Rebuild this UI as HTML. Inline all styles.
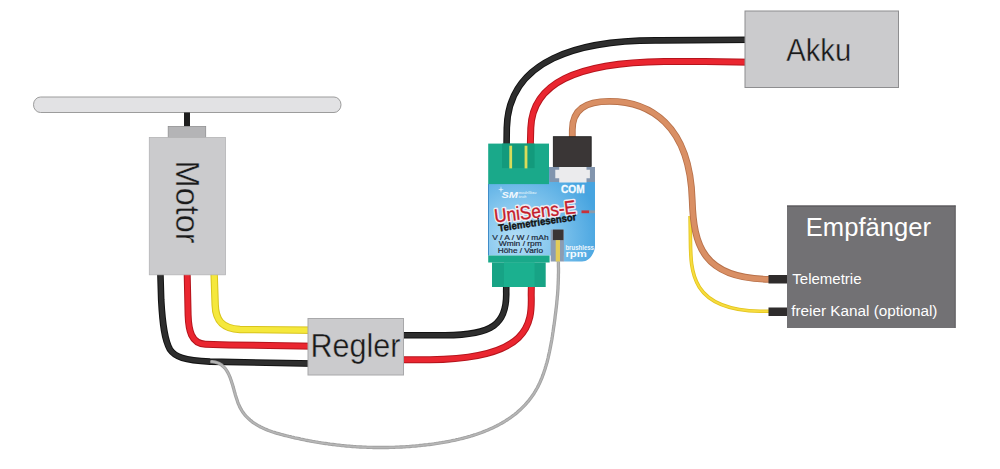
<!DOCTYPE html>
<html><head><meta charset="utf-8">
<style>
html,body{margin:0;padding:0;background:#fff;}
body{width:1000px;height:469px;overflow:hidden;position:relative;font-family:"Liberation Sans",sans-serif;}
svg{position:absolute;left:0;top:0;display:block;}
</style></head>
<body>
<svg width="1000" height="469" viewBox="0 0 1000 469" font-family="Liberation Sans, sans-serif">
<defs>
<radialGradient id="blue" gradientUnits="userSpaceOnUse" cx="520" cy="238" r="80" fx="515" fy="240">
<stop offset="0" stop-color="#b4def6"/>
<stop offset="0.45" stop-color="#86c7ee"/>
<stop offset="1" stop-color="#47a4e0"/>
</radialGradient>
</defs>
<rect width="1000" height="469" fill="#fff"/>

<!-- propeller -->
<rect x="33.5" y="97" width="307.5" height="15.5" rx="7" ry="7.75" fill="#e2e2e4" stroke="#9c9c9c" stroke-width="1"/>
<rect x="184" y="112.5" width="6" height="14" fill="#1e1e1e"/>
<rect x="168.2" y="126.5" width="37.5" height="11" fill="#b4b4b6" stroke="#8f8f91" stroke-width="0.8"/>

<g fill="none" stroke-linecap="butt" stroke-linejoin="round">
<path d="M160.3,270 L161.2,300 C162.6,325 164.5,340 170,349.5 C175,357 184,360.2 210,361.6 L315,363.6" stroke="#121212" stroke-width="6.6"/>
<path d="M160.3,270 L161.2,300 C162.6,325 164.5,340 170,349.5 C175,357 184,360.2 210,361.6 L315,363.6" stroke="#2e2e2e" stroke-width="4.6"/>
<path d="M187.1,270 L188.1,314.9 C188.6,330 191,343.6 205.4,344.2 L229.1,344.9 L315,346.3" stroke="#b5141c" stroke-width="7.0"/>
<path d="M187.1,270 L188.1,314.9 C188.6,330 191,343.6 205.4,344.2 L229.1,344.9 L315,346.3" stroke="#ea2630" stroke-width="5.0"/>
<path d="M214,270 L215.2,305 C215.6,319 221,328.5 240,329.5 L315,330.2" stroke="#d8c41c" stroke-width="7.4"/>
<path d="M214,270 L215.2,305 C215.6,319 221,328.5 240,329.5 L315,330.2" stroke="#f5e83c" stroke-width="5.4"/>
<path d="M210.5,361.6 L212.2,361.7 L213.8,361.9 L215.3,362.2 L216.7,362.6 L218.0,363.0 L219.3,363.6 L220.5,364.3 L221.6,365.0 L222.6,365.9 L223.6,366.8 L224.6,367.8 L225.4,368.8 L226.2,369.9 L227.0,371.1 L227.7,372.3 L228.4,373.6 L229.0,374.9 L229.6,376.3 L230.2,377.7 L230.7,379.2 L231.2,380.6 L231.7,382.2 L232.2,383.7 L232.7,385.2 L233.1,386.8 L233.6,388.4 L234.0,389.9 L234.4,391.5 L234.9,393.1 L235.3,394.7 L235.8,396.2 L236.3,397.8 L236.8,399.3 L237.3,400.8 L237.8,402.3 L238.4,403.8 L239.0,405.2 L239.6,406.6 L240.3,407.9 L241.0,409.2 L241.7,410.4 L242.5,411.7 L243.3,412.8 L244.2,414.0 L245.1,415.1 L246.0,416.1 L247.0,417.1 L248.0,418.1 L249.0,419.1 L250.0,420.0 L251.1,420.9 L252.2,421.8 L253.3,422.6 L254.5,423.4 L255.7,424.1 L256.9,424.9 L258.1,425.6 L259.4,426.3 L260.6,427.0 L261.9,427.6 L263.2,428.2 L264.5,428.8 L265.9,429.4 L267.2,429.9 L268.6,430.5 L270.0,431.0 L271.4,431.5 L272.8,432.0 L274.2,432.4 L275.6,432.9 L277.1,433.3 L278.5,433.7 L280.0,434.1 L281.4,434.5 L282.9,434.9 L284.4,435.3 L285.8,435.7 L287.3,436.0 L288.8,436.4 L290.2,436.7 L291.7,437.1 L293.2,437.4 L294.7,437.8 L296.1,438.1 L297.6,438.4 L299.1,438.7 L300.6,439.1 L302.0,439.4 L303.5,439.7 L305.0,440.0 L306.4,440.3 L307.9,440.5 L309.4,440.8 L310.9,441.1 L312.3,441.4 L313.8,441.6 L315.3,441.9 L316.8,442.1 L318.3,442.4 L319.7,442.6 L321.2,442.9 L322.7,443.1 L324.2,443.3 L325.6,443.5 L327.1,443.7 L328.6,444.0 L330.1,444.2 L331.6,444.3 L333.0,444.5 L334.5,444.7 L336.0,444.9 L337.5,445.1 L339.0,445.2 L340.5,445.4 L341.9,445.6 L343.4,445.7 L344.9,445.8 L346.4,446.0 L347.9,446.1 L349.4,446.2 L350.9,446.4 L352.3,446.5 L353.8,446.6 L355.3,446.7 L356.8,446.8 L358.3,446.9 L359.8,447.0 L361.3,447.0 L362.8,447.1 L364.3,447.2 L365.8,447.2 L367.3,447.3 L368.8,447.3 L370.3,447.4 L371.8,447.4 L373.2,447.5 L374.7,447.5 L376.2,447.5 L377.7,447.5 L379.3,447.5 L380.8,447.5 L382.3,447.5 L383.8,447.5 L385.3,447.5 L386.8,447.5 L388.3,447.5 L389.8,447.4 L391.3,447.4 L392.8,447.4 L394.3,447.3 L395.8,447.2 L397.3,447.2 L398.9,447.1 L400.4,447.0 L401.9,447.0 L403.4,446.9 L404.9,446.8 L406.5,446.7 L408.0,446.6 L409.5,446.5 L411.0,446.3 L412.5,446.2 L414.1,446.1 L415.6,446.0 L417.1,445.8 L418.7,445.7 L420.2,445.5 L421.7,445.4 L423.3,445.2 L424.8,445.0 L426.3,444.8 L427.9,444.7 L429.4,444.5 L430.9,444.3 L432.5,444.1 L434.0,443.9 L435.5,443.6 L437.1,443.4 L438.6,443.2 L440.1,442.9 L441.7,442.7 L443.2,442.4 L444.7,442.2 L446.3,441.9 L447.8,441.6 L449.3,441.3 L450.8,441.0 L452.3,440.7 L453.8,440.4 L455.3,440.1 L456.9,439.7 L458.4,439.4 L459.8,439.0 L461.3,438.7 L462.8,438.3 L464.3,437.9 L465.8,437.5 L467.3,437.1 L468.7,436.7 L470.2,436.3 L471.6,435.8 L473.1,435.4 L474.5,434.9 L476.0,434.5 L477.4,434.0 L478.8,433.5 L480.2,433.0 L481.6,432.5 L483.0,431.9 L484.4,431.4 L485.8,430.8 L487.2,430.3 L488.5,429.7 L489.9,429.1 L491.2,428.5 L492.5,427.9 L493.9,427.3 L495.2,426.6 L496.5,426.0 L497.8,425.3 L499.1,424.6 L500.3,423.9 L501.6,423.2 L502.8,422.5 L504.1,421.8 L505.3,421.0 L506.5,420.2 L507.7,419.5 L508.9,418.7 L510.1,417.9 L511.3,417.0 L512.4,416.2 L513.5,415.3 L514.7,414.5 L515.8,413.6 L516.9,412.7 L517.9,411.8 L519.0,410.8 L520.1,409.9 L521.1,408.9 L522.1,407.9 L523.1,406.9 L524.1,405.9 L525.1,404.9 L526.0,403.8 L527.0,402.7 L527.9,401.7 L528.8,400.6 L529.7,399.4 L530.6,398.3 L531.4,397.1 L532.2,396.0 L533.1,394.8 L533.9,393.6 L534.6,392.3 L535.4,391.1 L536.1,389.8 L536.9,388.5 L537.6,387.2 L538.3,385.9 L538.9,384.6 L539.6,383.2 L540.2,381.8 L540.8,380.4 L541.4,379.0 L542.0,377.6 L542.5,376.2 L543.1,374.7 L543.6,373.2 L544.1,371.8 L544.6,370.3 L545.1,368.8 L545.5,367.3 L546.0,365.8 L546.4,364.3 L546.9,362.7 L547.3,361.2 L547.7,359.6 L548.1,358.1 L548.4,356.5 L548.8,355.0 L549.1,353.4 L549.5,351.8 L549.8,350.3 L550.1,348.7 L550.4,347.1 L550.7,345.6 L551.0,344.0 L551.3,342.4 L551.6,340.9 L551.9,339.3 L552.1,337.7 L552.4,336.2 L552.6,334.6 L552.8,333.1 L553.1,331.5 L553.3,330.0 L553.5,328.5 L553.7,327.0 L554.0,325.4 L554.2,323.9 L554.4,322.4 L554.6,321.0 L554.8,319.5 L555.0,318.0 L555.1,316.6 L555.3,315.1 L555.5,313.7 L555.7,312.3 L555.9,310.8 L556.0,309.4 L556.2,308.0 L556.4,306.6 L556.5,305.2 L556.7,303.8 L556.8,302.4 L556.9,300.9 L557.1,299.5 L557.2,298.1 L557.3,296.7 L557.5,295.3 L557.6,293.9 L557.7,292.4 L557.8,291.0 L557.9,289.5 L558.0,288.1 L558.0,286.6 L558.1,285.2 L558.2,283.7 L558.2,282.2 L558.3,280.7 L558.3,279.2 L558.4,277.6 L558.4,276.1 L558.4,274.5 L558.5,273.0 L558.5,271.4 L558.5,269.8 L558.5,268.1 L558.4,266.5 L558.4,264.8 L558.4,263.1 L558.4,261.4" stroke="#a0a0a0" stroke-width="3.3"/>
<path d="M210.5,361.6 L212.2,361.7 L213.8,361.9 L215.3,362.2 L216.7,362.6 L218.0,363.0 L219.3,363.6 L220.5,364.3 L221.6,365.0 L222.6,365.9 L223.6,366.8 L224.6,367.8 L225.4,368.8 L226.2,369.9 L227.0,371.1 L227.7,372.3 L228.4,373.6 L229.0,374.9 L229.6,376.3 L230.2,377.7 L230.7,379.2 L231.2,380.6 L231.7,382.2 L232.2,383.7 L232.7,385.2 L233.1,386.8 L233.6,388.4 L234.0,389.9 L234.4,391.5 L234.9,393.1 L235.3,394.7 L235.8,396.2 L236.3,397.8 L236.8,399.3 L237.3,400.8 L237.8,402.3 L238.4,403.8 L239.0,405.2 L239.6,406.6 L240.3,407.9 L241.0,409.2 L241.7,410.4 L242.5,411.7 L243.3,412.8 L244.2,414.0 L245.1,415.1 L246.0,416.1 L247.0,417.1 L248.0,418.1 L249.0,419.1 L250.0,420.0 L251.1,420.9 L252.2,421.8 L253.3,422.6 L254.5,423.4 L255.7,424.1 L256.9,424.9 L258.1,425.6 L259.4,426.3 L260.6,427.0 L261.9,427.6 L263.2,428.2 L264.5,428.8 L265.9,429.4 L267.2,429.9 L268.6,430.5 L270.0,431.0 L271.4,431.5 L272.8,432.0 L274.2,432.4 L275.6,432.9 L277.1,433.3 L278.5,433.7 L280.0,434.1 L281.4,434.5 L282.9,434.9 L284.4,435.3 L285.8,435.7 L287.3,436.0 L288.8,436.4 L290.2,436.7 L291.7,437.1 L293.2,437.4 L294.7,437.8 L296.1,438.1 L297.6,438.4 L299.1,438.7 L300.6,439.1 L302.0,439.4 L303.5,439.7 L305.0,440.0 L306.4,440.3 L307.9,440.5 L309.4,440.8 L310.9,441.1 L312.3,441.4 L313.8,441.6 L315.3,441.9 L316.8,442.1 L318.3,442.4 L319.7,442.6 L321.2,442.9 L322.7,443.1 L324.2,443.3 L325.6,443.5 L327.1,443.7 L328.6,444.0 L330.1,444.2 L331.6,444.3 L333.0,444.5 L334.5,444.7 L336.0,444.9 L337.5,445.1 L339.0,445.2 L340.5,445.4 L341.9,445.6 L343.4,445.7 L344.9,445.8 L346.4,446.0 L347.9,446.1 L349.4,446.2 L350.9,446.4 L352.3,446.5 L353.8,446.6 L355.3,446.7 L356.8,446.8 L358.3,446.9 L359.8,447.0 L361.3,447.0 L362.8,447.1 L364.3,447.2 L365.8,447.2 L367.3,447.3 L368.8,447.3 L370.3,447.4 L371.8,447.4 L373.2,447.5 L374.7,447.5 L376.2,447.5 L377.7,447.5 L379.3,447.5 L380.8,447.5 L382.3,447.5 L383.8,447.5 L385.3,447.5 L386.8,447.5 L388.3,447.5 L389.8,447.4 L391.3,447.4 L392.8,447.4 L394.3,447.3 L395.8,447.2 L397.3,447.2 L398.9,447.1 L400.4,447.0 L401.9,447.0 L403.4,446.9 L404.9,446.8 L406.5,446.7 L408.0,446.6 L409.5,446.5 L411.0,446.3 L412.5,446.2 L414.1,446.1 L415.6,446.0 L417.1,445.8 L418.7,445.7 L420.2,445.5 L421.7,445.4 L423.3,445.2 L424.8,445.0 L426.3,444.8 L427.9,444.7 L429.4,444.5 L430.9,444.3 L432.5,444.1 L434.0,443.9 L435.5,443.6 L437.1,443.4 L438.6,443.2 L440.1,442.9 L441.7,442.7 L443.2,442.4 L444.7,442.2 L446.3,441.9 L447.8,441.6 L449.3,441.3 L450.8,441.0 L452.3,440.7 L453.8,440.4 L455.3,440.1 L456.9,439.7 L458.4,439.4 L459.8,439.0 L461.3,438.7 L462.8,438.3 L464.3,437.9 L465.8,437.5 L467.3,437.1 L468.7,436.7 L470.2,436.3 L471.6,435.8 L473.1,435.4 L474.5,434.9 L476.0,434.5 L477.4,434.0 L478.8,433.5 L480.2,433.0 L481.6,432.5 L483.0,431.9 L484.4,431.4 L485.8,430.8 L487.2,430.3 L488.5,429.7 L489.9,429.1 L491.2,428.5 L492.5,427.9 L493.9,427.3 L495.2,426.6 L496.5,426.0 L497.8,425.3 L499.1,424.6 L500.3,423.9 L501.6,423.2 L502.8,422.5 L504.1,421.8 L505.3,421.0 L506.5,420.2 L507.7,419.5 L508.9,418.7 L510.1,417.9 L511.3,417.0 L512.4,416.2 L513.5,415.3 L514.7,414.5 L515.8,413.6 L516.9,412.7 L517.9,411.8 L519.0,410.8 L520.1,409.9 L521.1,408.9 L522.1,407.9 L523.1,406.9 L524.1,405.9 L525.1,404.9 L526.0,403.8 L527.0,402.7 L527.9,401.7 L528.8,400.6 L529.7,399.4 L530.6,398.3 L531.4,397.1 L532.2,396.0 L533.1,394.8 L533.9,393.6 L534.6,392.3 L535.4,391.1 L536.1,389.8 L536.9,388.5 L537.6,387.2 L538.3,385.9 L538.9,384.6 L539.6,383.2 L540.2,381.8 L540.8,380.4 L541.4,379.0 L542.0,377.6 L542.5,376.2 L543.1,374.7 L543.6,373.2 L544.1,371.8 L544.6,370.3 L545.1,368.8 L545.5,367.3 L546.0,365.8 L546.4,364.3 L546.9,362.7 L547.3,361.2 L547.7,359.6 L548.1,358.1 L548.4,356.5 L548.8,355.0 L549.1,353.4 L549.5,351.8 L549.8,350.3 L550.1,348.7 L550.4,347.1 L550.7,345.6 L551.0,344.0 L551.3,342.4 L551.6,340.9 L551.9,339.3 L552.1,337.7 L552.4,336.2 L552.6,334.6 L552.8,333.1 L553.1,331.5 L553.3,330.0 L553.5,328.5 L553.7,327.0 L554.0,325.4 L554.2,323.9 L554.4,322.4 L554.6,321.0 L554.8,319.5 L555.0,318.0 L555.1,316.6 L555.3,315.1 L555.5,313.7 L555.7,312.3 L555.9,310.8 L556.0,309.4 L556.2,308.0 L556.4,306.6 L556.5,305.2 L556.7,303.8 L556.8,302.4 L556.9,300.9 L557.1,299.5 L557.2,298.1 L557.3,296.7 L557.5,295.3 L557.6,293.9 L557.7,292.4 L557.8,291.0 L557.9,289.5 L558.0,288.1 L558.0,286.6 L558.1,285.2 L558.2,283.7 L558.2,282.2 L558.3,280.7 L558.3,279.2 L558.4,277.6 L558.4,276.1 L558.4,274.5 L558.5,273.0 L558.5,271.4 L558.5,269.8 L558.5,268.1 L558.4,266.5 L558.4,264.8 L558.4,263.1 L558.4,261.4" stroke="#b6b6b6" stroke-width="1.6"/>
<path d="M398,335.3 L445,335.2 C492.9,335.2 507.2,323.8 506.2,292 L506.3,282" stroke="#121212" stroke-width="6.6"/>
<path d="M398,335.3 L445,335.2 C492.9,335.2 507.2,323.8 506.2,292 L506.3,282" stroke="#2e2e2e" stroke-width="4.6"/>
<path d="M398,359.8 L430,359.7 C530,358.7 532.1,323.7 531.2,295 L531.4,282" stroke="#b5141c" stroke-width="7.0"/>
<path d="M398,359.8 L430,359.7 C530,358.7 532.1,323.7 531.2,295 L531.4,282" stroke="#ea2630" stroke-width="5.0"/>
<path d="M506.5,150 L506.8,128 C508.3,60 578,39.6 660,40.4 L752,39.8" stroke="#121212" stroke-width="6.6"/>
<path d="M506.5,150 L506.8,128 C508.3,60 578,39.6 660,40.4 L752,39.8" stroke="#2e2e2e" stroke-width="4.6"/>
<path d="M530.2,150 L530.8,128 C532.3,84 575,62.4 664,61.4 L705,61.4 L752,62.3" stroke="#b5141c" stroke-width="7.0"/>
<path d="M530.2,150 L530.8,128 C532.3,84 575,62.4 664,61.4 L705,61.4 L752,62.3" stroke="#ea2630" stroke-width="5.0"/>
<path d="M690.1,216 L690.4,236.0 C690.7,270.1 688.7,309.8 760.0,311.2 L775,311.3" stroke="#e2c41e" stroke-width="3.6"/>
<path d="M690.1,216 L690.4,236.0 C690.7,270.1 688.7,309.8 760.0,311.2 L775,311.3" stroke="#f7dc3e" stroke-width="2.0"/>
<path d="M572.3,140 L572.3,130 C572.3,109.4 585.6,101.3 609.3,101.3 C649.2,101.3 689.9,123.9 692.2,200.0 C693.6,245.4 702.7,278.6 769.0,279.3 L775,279.4" stroke="#b8714a" stroke-width="6.8"/>
<path d="M572.3,140 L572.3,130 C572.3,109.4 585.6,101.3 609.3,101.3 C649.2,101.3 689.9,123.9 692.2,200.0 C693.6,245.4 702.7,278.6 769.0,279.3 L775,279.4" stroke="#d98f64" stroke-width="5.0"/>
</g>


<!-- MOTOR -->
<rect x="149.3" y="137.4" width="76.2" height="137.4" fill="#cbcbcd" stroke="#b4b4b6" stroke-width="0.8"/>
<text transform="translate(176,160.6) rotate(90)" font-size="32.8" fill="#1a1a1a" stroke="#cbcbcd" stroke-width="0.4" textLength="83" lengthAdjust="spacingAndGlyphs">Motor</text>

<!-- REGLER -->
<rect x="308" y="318.5" width="95.5" height="56.5" fill="#cbcbcd" stroke="#a8a8aa" stroke-width="1"/>
<text x="310.5" y="356.5" font-size="32.5" fill="#1a1a1a" stroke="#cbcbcd" stroke-width="0.4" textLength="90" lengthAdjust="spacingAndGlyphs">Regler</text>

<!-- AKKU -->
<rect x="745" y="11" width="153.5" height="76.5" fill="#cbcbcd" stroke="#8e8e90" stroke-width="1"/>
<text x="786.2" y="61.4" font-size="32" fill="#1a1a1a" stroke="#cbcbcd" stroke-width="0.4" textLength="65" lengthAdjust="spacingAndGlyphs">Akku</text>

<!-- EMPFAENGER -->
<rect x="787" y="205.5" width="168.6" height="122.5" fill="#727174"/><rect x="787" y="205.5" width="168.6" height="1.2" fill="#5a595c"/><rect x="954.6" y="205.5" width="1" height="122.5" fill="#616063"/>
<text x="805.8" y="235.6" font-size="25.6" fill="#fff">Empfänger</text>
<text x="792.3" y="284.3" font-size="15" fill="#fff">Telemetrie</text>
<text x="791.2" y="315.6" font-size="15.3" fill="#fff">freier Kanal (optional)</text>
<rect x="768.5" y="275" width="18.5" height="8.5" fill="#2f2c2c"/>
<rect x="768.5" y="307.5" width="18.5" height="8.5" fill="#2f2c2c"/>

<!-- UNISENS -->
<!-- blue body -->
<path d="M488,184 L549,184 L549,167 L595,167 L595,246 C595,252 590,261.5 582,261.5 L563.8,261.5 L563.8,255.5 L488,255.5 Z" fill="url(#blue)"/>
<path d="M488.5,184 L488.5,255.5" stroke="#3f8cc8" stroke-width="1"/>
<!-- socket housing -->
<rect x="549.4" y="167" width="45.6" height="15" fill="#8295ae"/>
<path d="M559.2,166.8 H586.5 V169.8 H589.9 V178.3 H586.5 V182.6 H559.2 V178.3 H555.3 V169.8 H559.2 Z" fill="#ebebed"/>
<!-- black connector -->
<rect x="553.3" y="136.7" width="37.9" height="29.7" fill="#3a3636" stroke="#1a1a1a" stroke-width="0.8"/>
<!-- green top connector -->
<rect x="488.2" y="143.6" width="60.8" height="40.5" fill="#1aa98a"/>
<rect x="502" y="143.6" width="32.6" height="24.5" fill="#139a7c"/>
<rect x="509.3" y="145.7" width="2.8" height="22.7" fill="#d8dc5a"/>
<rect x="524.6" y="145.7" width="2.8" height="22.7" fill="#d8dc5a"/>
<!-- green bottom connector -->
<rect x="488.2" y="255.5" width="61.4" height="7" fill="#1aa98a"/>
<rect x="492" y="262.4" width="53.7" height="24.6" fill="#17a385"/>
<rect x="504" y="262.4" width="30.6" height="24.6" fill="#1bb08f"/>
<!-- rpm strip -->
<rect x="550.7" y="229.6" width="13.2" height="31.9" fill="#8c9cb2"/>
<rect x="552.9" y="229.6" width="10.5" height="10.5" fill="#3a3434"/>
<rect x="555.7" y="240.1" width="4.3" height="21.4" fill="#e2cc5a"/>
<!-- COM -->
<text x="561" y="192.9" font-size="10.6" font-weight="bold" fill="#f4fbff" stroke="#f4fbff" stroke-width="0.3" textLength="23.6" lengthAdjust="spacingAndGlyphs">COM</text>
<!-- SM logo -->
<path d="M501,186 L501.6,189 L504,189.6 L501.6,190.2 L501,193 L500.4,190.2 L498,189.6 L500.4,189 Z" fill="#f4faff" opacity="0.8"/>
<text x="501.5" y="198.3" font-size="9.5" font-weight="bold" font-style="italic" fill="#f2f8fd" textLength="16.5" lengthAdjust="spacingAndGlyphs">SM</text>
<text x="518.5" y="193.6" font-size="3.6" font-weight="bold" font-style="italic" fill="#d8ebf8" textLength="18" lengthAdjust="spacingAndGlyphs">modellbau</text>
<text x="518.5" y="197.8" font-size="3.6" font-weight="bold" font-style="italic" fill="#d8ebf8" textLength="8" lengthAdjust="spacingAndGlyphs">tech</text>
<!-- UniSens-E -->
<g transform="translate(495,222.6) rotate(-6.6)">
 <text x="0" y="0" font-size="18.8" fill="#fff" stroke="#fbf0f2" stroke-width="3.4" stroke-linejoin="round" textLength="82" lengthAdjust="spacingAndGlyphs" opacity="0.92">UniSens-E</text>
 <text x="0" y="0" font-size="18.8" fill="#c41a2a" stroke="#c41a2a" stroke-width="0.35" stroke-linejoin="round" textLength="82" lengthAdjust="spacingAndGlyphs">UniSens-E</text>
</g>
<g transform="translate(499,231.4) rotate(-8.3)">
 <text x="0" y="0" font-size="10" font-weight="bold" fill="#121212" stroke="#121212" stroke-width="0.4" textLength="78.5" lengthAdjust="spacingAndGlyphs">Telemetriesensor</text>
</g>
<rect x="581.5" y="210.4" width="7.7" height="2.8" fill="#c8323a"/>
<rect x="589.2" y="210.4" width="5.8" height="2.8" fill="#8a9aaa"/>
<g fill="#1b2838" stroke="#1b2838" stroke-width="0.2" font-size="7.9">
<text x="492.2" y="239.6" textLength="56.4" lengthAdjust="spacingAndGlyphs">V / A / W / mAh</text>
<text x="498.8" y="246.2" textLength="43" lengthAdjust="spacingAndGlyphs">Wmin / rpm</text>
<text x="497.8" y="252.8" textLength="45.2" lengthAdjust="spacingAndGlyphs">Höhe / Vario</text>
</g>
<text x="565.4" y="249.6" font-size="6.3" font-weight="bold" fill="#eef7fd" textLength="28.6" lengthAdjust="spacingAndGlyphs">brushless</text>
<text x="565.4" y="256.7" font-size="9.9" font-weight="bold" fill="#f4fbff" textLength="21.4" lengthAdjust="spacingAndGlyphs">rpm</text>
</svg>
</body></html>
